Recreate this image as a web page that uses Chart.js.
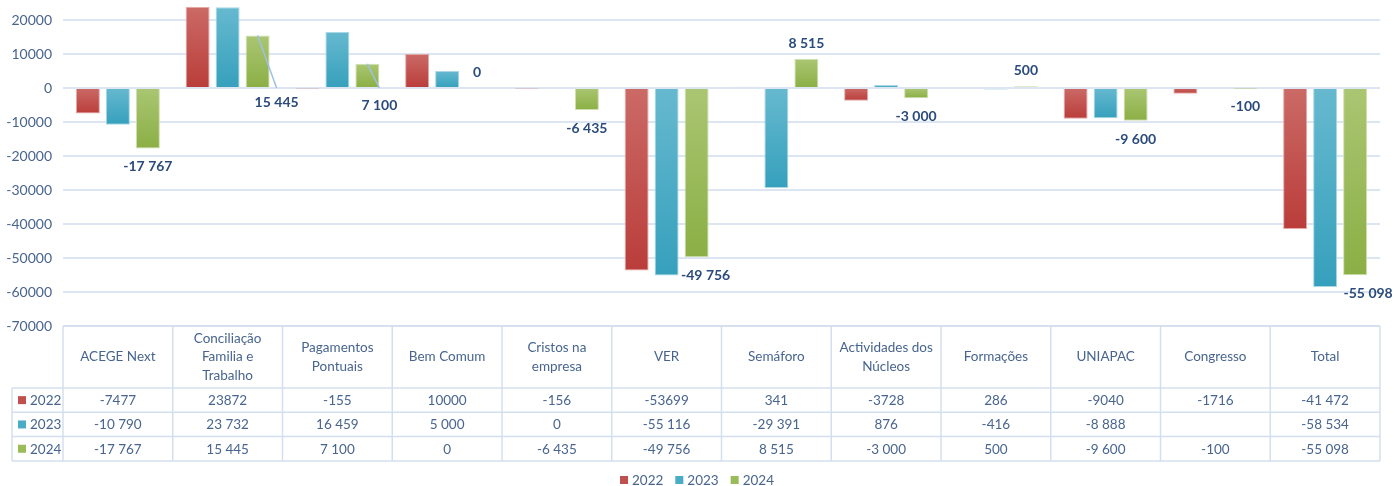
<!DOCTYPE html>
<html>
<head>
<meta charset="utf-8">
<script src="https://cdn.jsdelivr.net/npm/chart.js@4.4.1/dist/chart.umd.min.js"></script>
<style>
  html, body { margin: 0; padding: 0; background: #fff; }
  #wrap { width: 1394px; height: 486px; }
</style>
</head>
<body>
<div id="wrap"><canvas id="chart"></canvas></div>
<script>
// categories (multi-line header text in the data table)
const categories = [
  'ACEGE Next',
  ['Conciliação', 'Familia e', 'Trabalho'],
  ['Pagamentos', 'Pontuais'],
  'Bem Comum',
  ['Cristos na', 'empresa'],
  'VER',
  'Semáforo',
  ['Actividades dos', 'Núcleos'],
  'Formações',
  'UNIAPAC',
  'Congresso',
  'Total'
];

const years = ['2022', '2023', '2024'];

const values2022 = [-7477, 23872, -155, 10000, -156, -53699, 341, -3728, 286, -9040, -1716, -41472];
const values2023 = [-10790, 23732, 16459, 5000, 0, -55116, -29391, 876, -416, -8888, null, -58534];
const values2024 = [-17767, 15445, 7100, 0, -6435, -49756, 8515, -3000, 500, -9600, -100, -55098];

const yTicks = [20000, 10000, 0, -10000, -20000, -30000, -40000, -50000, -60000, -70000];

const FONT = 'Lato, "Open Sans", sans-serif';
const TEXT = '#48658F';
const LABEL = '#2A4B7C';
const GRID = '#DCE6F2';

// colour per series: [light top, dark bottom, solid]
const palette = [
  ['#CB6A66', '#BA3D3A', '#C0504D'],
  ['#66B9CF', '#36A0BC', '#4BACC6'],
  ['#AAC672', '#8BAF45', '#9BBB59']
];
const edges = ['#E3A9A7', '#A9D7E4', '#CFE0AE'];

function spaced(v) {
  if (v == null) return '';
  const s = String(Math.abs(v)).replace(/\B(?=(\d{3})+(?!\d))/g, ' ');
  return v < 0 ? '-' + s : s;
}

// 2022 row in the table is shown without digit grouping, except the total
const tableFormat = [
  (v, i) => (i === categories.length - 1 ? spaced(v) : String(v)),
  (v) => spaced(v),
  (v) => spaced(v)
];

// label tweaks for the 2024 series
const labelNudge = { 5: 9, 11: 13 };
const leaderLabels = { 1: { dx: 19, dy: 14 }, 2: { dx: 12, dy: 17 } };

function barFill(light, dark) {
  return (ctx) => {
    const chart = ctx.chart;
    if (!chart.chartArea || ctx.type !== 'data' || ctx.raw == null) return dark;
    const y = chart.scales.y;
    const a = y.getPixelForValue(0);
    const b = y.getPixelForValue(ctx.raw);
    const top = Math.min(a, b), bot = Math.max(a, b);
    if (bot - top < 1) return dark;
    const g = chart.ctx.createLinearGradient(0, top, 0, bot);
    g.addColorStop(0, light);
    g.addColorStop(1, dark);
    return g;
  };
}

const seriesValues = [values2022, values2023, values2024];

const datasets = years.map((yr, k) => ({
  label: yr,
  data: seriesValues[k],
  backgroundColor: barFill(palette[k][0], palette[k][1]),
  borderColor: edges[k],
  borderWidth: 1,
  categoryPercentage: 0.82,
  barPercentage: 0.8,
  clip: false
}));

const tablePlugin = {
  id: 'tablePlugin',
  afterDraw(chart) {
    const ctx = chart.ctx;
    const area = chart.chartArea;
    const n = categories.length;
    const colW = (area.right - area.left) / n;
    const headTop = area.bottom;
    const headBot = headTop + 62;
    const rowH = 24.3;
    const rowLeft = 12;
    const tableBot = headBot + rowH * 3;

    ctx.save();
    // borders
    ctx.strokeStyle = '#D3DFEE';
    ctx.lineWidth = 1.5;
    ctx.beginPath();
    ctx.moveTo(area.left, headTop);
    ctx.lineTo(area.right, headTop);
    for (let r = 0; r <= 3; r++) {
      const y = headBot + r * rowH;
      ctx.moveTo(rowLeft, y);
      ctx.lineTo(area.right, y);
    }
    for (let c = 0; c <= n; c++) {
      const x = area.left + c * colW;
      ctx.moveTo(x, headTop);
      ctx.lineTo(x, tableBot);
    }
    ctx.moveTo(rowLeft, headBot);
    ctx.lineTo(rowLeft, tableBot);
    ctx.stroke();

    // header text
    ctx.fillStyle = TEXT;
    ctx.font = '13.5px ' + FONT;
    ctx.textAlign = 'center';
    ctx.textBaseline = 'middle';
    const lh = 18.5;
    categories.forEach((cat, i) => {
      const lines = Array.isArray(cat) ? cat : [cat];
      const cx = area.left + (i + 0.5) * colW;
      const cy = (headTop + headBot) / 2;
      lines.forEach((ln, j) => {
        ctx.fillText(ln, cx, cy + (j - (lines.length - 1) / 2) * lh);
      });
    });

    // rows
    years.forEach((yr, k) => {
      const cy = headBot + (k + 0.5) * rowH;
      ctx.fillStyle = palette[k][2];
      ctx.fillRect(18, cy - 4, 8, 8);
      ctx.fillStyle = TEXT;
      ctx.textAlign = 'left';
      ctx.fillText(yr, 30, cy + 0.5);
      ctx.textAlign = 'center';
      seriesValues[k].forEach((v, i) => {
        if (v == null) return;
        ctx.fillText(tableFormat[k](v, i), area.left + (i + 0.5) * colW, cy + 0.5);
      });
    });

    // legend
    ctx.font = '13.5px ' + FONT;
    const widths = years.map((yr) => ctx.measureText(yr).width);
    const box = 8, gap = 4, spacing = 12;
    const total = widths.reduce((s, w) => s + box + gap + w, 0) + spacing * (years.length - 1);
    let x = chart.width / 2 - total / 2;
    const ly = 480;
    ctx.textAlign = 'left';
    years.forEach((yr, k) => {
      ctx.fillStyle = palette[k][2];
      ctx.fillRect(x, ly - 4, box, box);
      ctx.fillStyle = TEXT;
      ctx.fillText(yr, x + box + gap, ly + 0.5);
      x += box + gap + widths[k] + spacing;
    });
    ctx.restore();
  }
};

const labelPlugin = {
  id: 'labelPlugin',
  afterDatasetsDraw(chart) {
    const ctx = chart.ctx;
    const meta = chart.getDatasetMeta(2);
    const zero = chart.scales.y.getPixelForValue(0);
    ctx.save();
    ctx.font = 'bold 14px ' + FONT;
    ctx.fillStyle = LABEL;
    ctx.textAlign = 'center';
    ctx.textBaseline = 'middle';
    values2024.forEach((v, i) => {
      const el = meta.data[i];
      if (!el || v == null) return;
      const txt = spaced(v);
      const lead = leaderLabels[i];
      if (lead) {
        const lx = el.x + lead.dx;
        ctx.strokeStyle = '#9FC0E3';
        ctx.lineWidth = 1.5;
        ctx.beginPath();
        ctx.moveTo(el.x, el.y);
        ctx.lineTo(lx, zero);
        ctx.stroke();
        ctx.fillText(txt, lx, zero + lead.dy);
        return;
      }
      const dx = labelNudge[i] || 0;
      const y = v >= 0 ? el.y - 15.5 : el.y + 18.5;
      ctx.fillText(txt, el.x + dx, y);
    });
    ctx.restore();
  }
};

new Chart(document.getElementById('chart'), {
  type: 'bar',
  data: { labels: categories, datasets: datasets },
  options: {
    responsive: true,
    maintainAspectRatio: false,
    animation: false,
    layout: { padding: { top: 3, right: 14, bottom: 160, left: 0 } },
    plugins: {
      legend: { display: false },
      tooltip: { enabled: false }
    },
    scales: {
      x: { display: false },
      y: {
        min: -70000,
        max: 25000,
        afterBuildTicks: (scale) => {
          scale.ticks = yTicks.map((v) => ({ value: v }));
        },
        afterFit: (scale) => {
          scale.width = 63;
          scale.paddingTop = 0;
          scale.paddingBottom = 0;
        },
        border: { display: false },
        grid: { color: GRID, lineWidth: 2, drawTicks: false },
        ticks: {
          padding: 11,
          color: TEXT,
          font: { family: FONT, size: 14 },
          callback: (v) => String(v)
        }
      }
    }
  },
  plugins: [labelPlugin, tablePlugin]
});
</script>
</body>
</html>
